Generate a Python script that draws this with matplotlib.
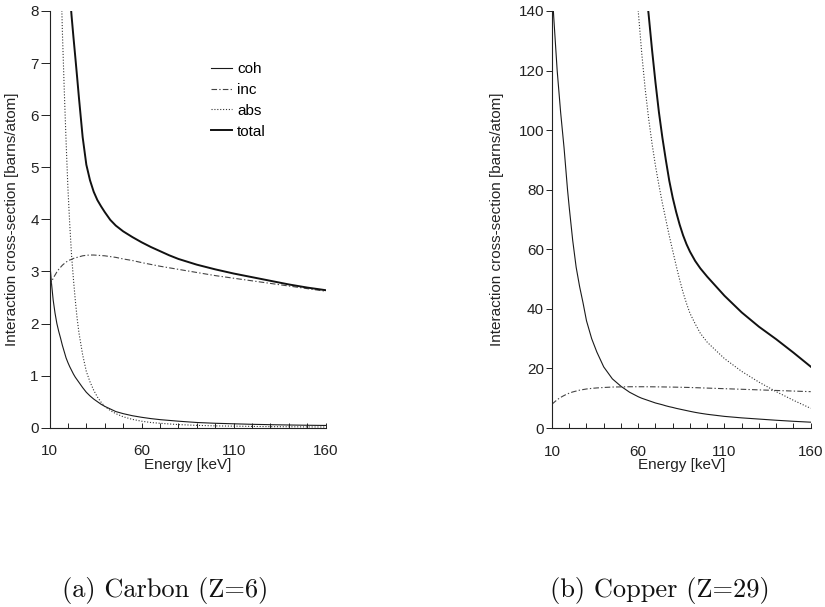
import matplotlib
matplotlib.use("Agg")
import matplotlib.pyplot as plt

# ---------------- data ----------------
# Carbon (Z=6)
c_energy = [10, 11, 12, 13, 14, 15, 16, 17, 18, 19, 20, 21, 22, 23, 24, 25, 26, 28, 30,
            32, 34, 36, 38, 40, 43, 46, 50, 55, 60, 65, 70, 75, 80, 90, 100, 110, 120,
            130, 140, 150, 160]
c_coh = [3.25, 2.8, 2.45, 2.2, 2.0, 1.85, 1.72, 1.58, 1.46, 1.34, 1.25, 1.17, 1.1, 1.03,
         0.97, 0.92, 0.87, 0.77, 0.68, 0.61, 0.55, 0.5, 0.45, 0.41, 0.36, 0.31, 0.27,
         0.23, 0.2, 0.175, 0.155, 0.14, 0.125, 0.1, 0.085, 0.075, 0.065, 0.058, 0.052,
         0.047, 0.043]
c_inc = [2.70, 2.79, 2.87, 2.93, 2.99, 3.04, 3.08, 3.12, 3.15, 3.18, 3.2, 3.22, 3.23,
         3.25, 3.26, 3.27, 3.28, 3.3, 3.31, 3.315, 3.315, 3.31, 3.305, 3.3, 3.285, 3.27,
         3.24, 3.21, 3.17, 3.135, 3.1, 3.07, 3.04, 2.98, 2.92, 2.87, 2.82, 2.77, 2.72,
         2.67, 2.62]
c_abs = [38.0, 29.0, 22.5, 17.5, 14.0, 11.3, 9.0, 7.6, 6.5, 5.5, 4.6, 3.9, 3.3, 2.85,
         2.45, 2.1, 1.82, 1.4, 1.08, 0.88, 0.72, 0.59, 0.49, 0.41, 0.33, 0.27, 0.21,
         0.16, 0.125, 0.1, 0.085, 0.072, 0.06, 0.045, 0.035, 0.03, 0.025, 0.02, 0.018,
         0.015, 0.013]
c_total = [44.0, 34.5, 27.8, 22.6, 19.3, 16.2, 13.8, 12.2, 10.9, 9.9, 9.0, 8.35, 7.9,
           7.5, 7.12, 6.73, 6.33, 5.58, 5.05, 4.75, 4.53, 4.37, 4.25, 4.14, 3.99, 3.88,
           3.77, 3.66, 3.56, 3.47, 3.39, 3.31, 3.24, 3.13, 3.04, 2.96, 2.89, 2.82, 2.75,
           2.69, 2.64]

# Copper (Z=29)
u_energy = [10, 11, 12, 13, 14, 15, 16, 17, 18, 19, 20, 22, 24, 26, 28, 30, 33, 36, 40,
            45, 50, 55, 60, 62, 64, 66, 68, 70, 72, 74, 76, 78, 80, 82, 84, 86, 88, 90,
            93, 96, 100, 110, 120, 130, 140, 150, 160]
u_coh = [148, 138, 129, 120, 113, 106, 100, 94, 87, 80, 74, 63, 54, 47.5, 42, 36, 30,
         25.5, 20.5, 16.5, 14.0, 12.0, 10.5, 10.0, 9.6, 9.2, 8.8, 8.4, 8.1, 7.8, 7.45,
         7.15, 6.9, 6.6, 6.35, 6.1, 5.85, 5.6, 5.25, 4.95, 4.6, 3.9, 3.4, 3.0, 2.6, 2.25,
         1.95]
u_inc = [8.0, 8.5, 9.0, 9.45, 9.9, 10.25, 10.6, 10.9, 11.2, 11.45, 11.7, 12.1, 12.4,
         12.7, 12.9, 13.1, 13.3, 13.45, 13.6, 13.75, 13.8, 13.85, 13.85, 13.85, 13.85,
         13.84, 13.83, 13.82, 13.8, 13.79, 13.77, 13.75, 13.73, 13.71, 13.68, 13.66,
         13.63, 13.6, 13.54, 13.48, 13.4, 13.2, 13.0, 12.8, 12.6, 12.4, 12.2]
u_abs = [22000, 17000, 13500, 11000, 8800, 7300, 6000, 5000, 4300, 3700, 3200, 2500,
         1950, 1450, 1150, 950, 730, 580, 430, 310, 230, 180, 140, 126, 114, 104, 95.5,
         88, 81.5, 75.5, 70, 64.5, 59.5, 54.5, 49.8, 45.5, 41.8, 38.5, 35.0, 31.8, 28.8,
         23.3, 19.0, 15.4, 12.2, 9.3, 6.6]
u_total = [22200, 17200, 13700, 11150, 8950, 7440, 6130, 5120, 4410, 3800, 3290, 2580,
           2020, 1510, 1210, 1000, 770, 615, 465, 340, 270, 220, 178, 163, 150, 139, 127,
           116, 106, 97.5, 90, 83, 77.3, 72.5, 68.3, 64.7, 61.7, 59.2, 56.1, 53.6, 50.8,
           44.4, 38.8, 34.0, 29.8, 25.3, 20.6]

series_labels = ["coh", "inc", "abs", "total"]
x_ticks = [10, 60, 110, 160]
c_yticks = [0, 1, 2, 3, 4, 5, 6, 7, 8]
u_yticks = [0, 20, 40, 60, 80, 100, 120, 140]
captions = ["(a) Carbon (Z=6)", "(b) Copper (Z=29)"]
ylabel_text = "Interaction cross-section [barns/atom]"
xlabel_text = "Energy [keV]"

# ---------------- styling ----------------
plt.rcParams['font.family'] = ['Liberation Sans', 'DejaVu Sans']
W, H = 825, 607
fig = plt.figure(figsize=(W / 100, H / 100), dpi=100)

styles = [
    dict(color='#1a1a1a', lw=0.8, ls='-'),
    dict(color='#444444', lw=0.8, ls=(0, (5, 2, 1.2, 2))),
    dict(color='#333333', lw=0.8, ls=(0, (1, 1.6))),
    dict(color='#111111', lw=1.4, ls='-'),
]
FS = 11


def px_axes(x0, x1, y0, y1):
    return fig.add_axes([x0 / W, 1 - y1 / H, (x1 - x0) / W, (y1 - y0) / H])


def setup(ax, ymax, yticks, ytick_len, ylabel_x):
    ax.set_xlim(10, 160)
    ax.set_ylim(0, ymax)
    for s in ['top', 'right']:
        ax.spines[s].set_visible(False)
    for s in ['left', 'bottom']:
        ax.spines[s].set_color('#222222')
        ax.spines[s].set_linewidth(0.8)
    ax.set_xticks(x_ticks)
    ax.set_xticks(list(range(10, 161, 10)), minor=True)
    ax.set_yticks(yticks)
    ax.tick_params(axis='x', which='both', direction='in', length=3.5, width=0.7,
                   pad=12, labelsize=FS, colors='#222222')
    ax.tick_params(axis='y', which='both', direction='out', length=ytick_len, width=0.7,
                   pad=1.2, labelsize=FS, colors='#222222')
    ax.set_xlabel(xlabel_text, fontsize=FS, color='#222222')
    ax.xaxis.set_label_coords(0.5, -0.072)
    ax.set_ylabel(ylabel_text, fontsize=FS, color='#222222')
    ax.yaxis.set_label_coords(ylabel_x, 0.5)


# Carbon panel
ax1 = px_axes(49.5, 325.7, 11, 427.7)
for vals, st, lab in zip([c_coh, c_inc, c_abs, c_total], styles, series_labels):
    ax1.plot(c_energy, vals, label=lab, **st)
setup(ax1, 8, c_yticks, 6.5, -0.110)
ax1.legend(loc='upper left', bbox_to_anchor=(211 / W, 1 - 62 / H),
           bbox_transform=fig.transFigure, frameon=False, fontsize=FS,
           handlelength=1.4, handletextpad=0.3, labelspacing=0.45, borderpad=0,
           borderaxespad=0)

# Copper panel
ax2 = px_axes(552, 810.7, 11, 428)
for vals, st in zip([u_coh, u_inc, u_abs, u_total], styles):
    ax2.plot(u_energy, vals, **st)
setup(ax2, 140, u_yticks, 4.5, -0.186)

# Captions
fig.text(165 / W, 1 - 590 / H, captions[0], ha='center', va='center',
         fontsize=19, family='cmr10', color='#111111')
fig.text(660 / W, 1 - 590 / H, captions[1], ha='center', va='center',
         fontsize=19, family='cmr10', color='#111111')

fig.savefig("out.png", dpi=100)
